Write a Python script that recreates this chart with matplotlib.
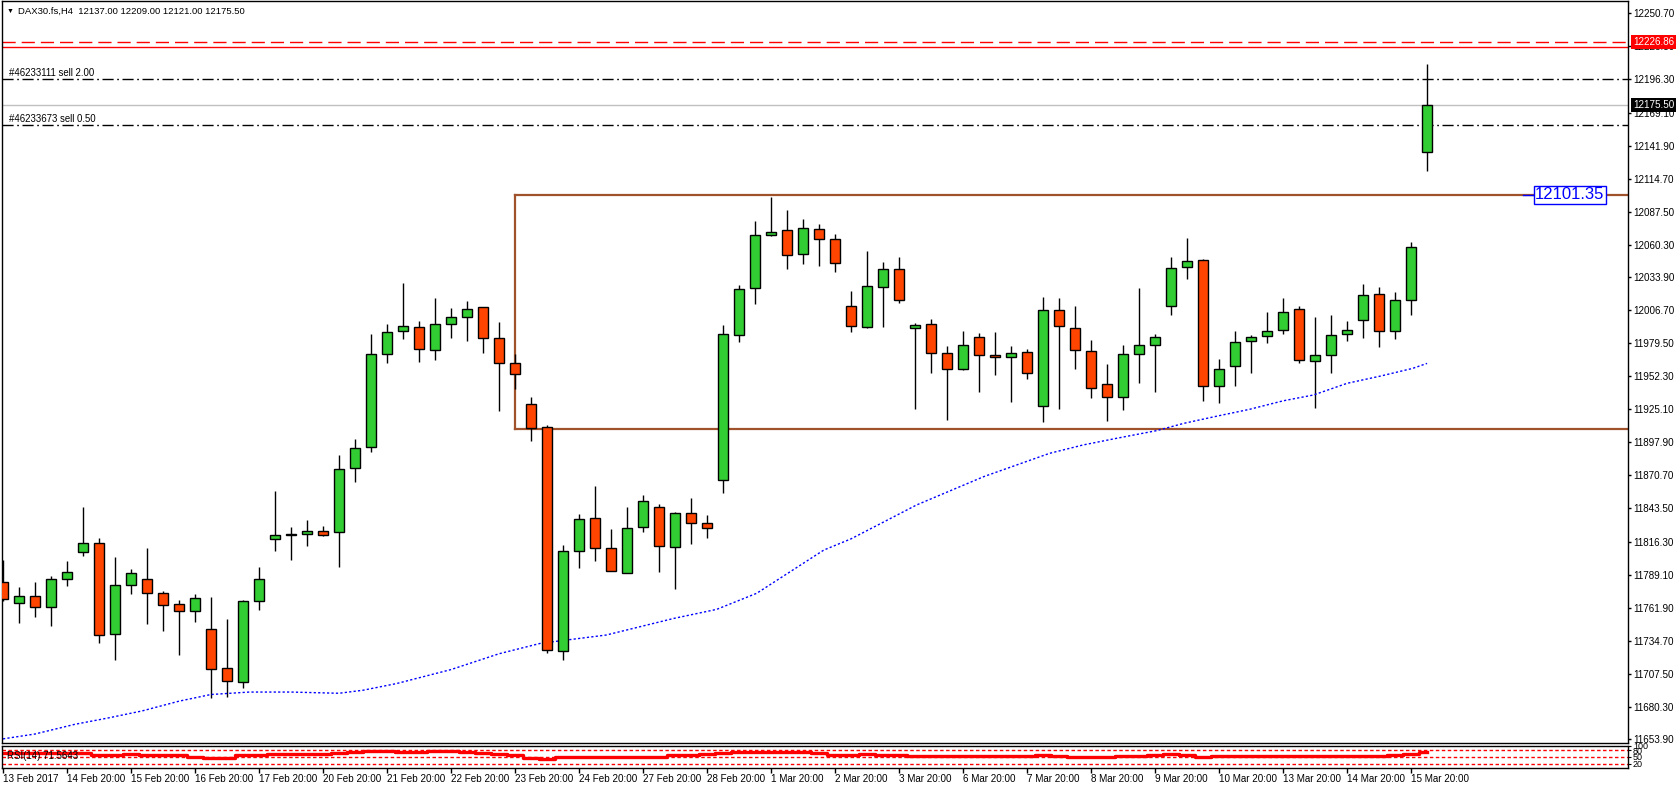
import numpy as np
import matplotlib
matplotlib.use('Agg')
from matplotlib import pyplot as plt
from matplotlib import transforms

plt.rcParams['font.family'] = ['Liberation Sans', 'DejaVu Sans']

# H4 candles (open, high, low, close)
opens = [11782.7, 11765.4, 11771.2, 11762.7, 11785.2, 11807.4, 11814.8, 11740.0, 11780.3, 11785.2,
         11773.7, 11764.6, 11758.9, 11744.1, 11712.0, 11700.5, 11767.1, 11818.1, 11821.4, 11822.2,
         11824.7, 11823.8, 11876.5, 11893.7, 11970.2, 11989.1, 11992.4, 11973.5, 11994.9, 12000.7,
         12008.9, 11983.4, 11962.8, 11929.1, 11910.2, 11726.0, 11808.2, 11835.4, 11810.7, 11790.1,
         11828.0, 11844.4, 11811.5, 11839.5, 11831.3, 11866.6, 11985.9, 12024.5, 12068.1, 12072.2,
         12052.5, 12073.0, 12064.8, 12009.7, 11993.0, 12025.4, 12040.2, 11991.6, 11994.9, 11971.1,
         11958.5, 11984.2, 11969.4, 11967.8, 11971.9, 11927.5, 12006.4, 11991.6, 11972.7, 11945.6,
         11934.9, 11970.3, 11977.7, 12009.7, 12041.8, 12047.6, 11943.9, 11960.4, 11980.9, 11985.1,
         11990.0, 12007.5, 11964.4, 11969.4, 11986.7, 11998.2, 12019.5, 11989.1, 12014.6, 12137.0]
highs = [11801.1, 11778.6, 11783.0, 11787.9, 11800.3, 11844.7, 11818.9, 11803.6, 11793.7, 11811.0,
         11775.3, 11767.9, 11772.9, 11770.4, 11752.3, 11767.9, 11795.3, 11857.8, 11828.0, 11833.7,
         11828.8, 11887.4, 11900.3, 11986.9, 11995.2, 12028.9, 11997.4, 12016.5, 12008.3, 12014.1,
         12009.5, 11996.8, 11970.5, 11935.1, 11912.1, 11813.2, 11838.7, 11862.0, 11826.3, 11844.4,
         11854.3, 11846.9, 11840.3, 11851.8, 11837.8, 11994.1, 12027.0, 12079.6, 12099.6, 12088.9,
         12081.5, 12077.1, 12068.9, 12022.3, 12055.2, 12046.2, 12050.3, 11995.8, 11999.3, 11977.1,
         11989.4, 11987.8, 11988.6, 11977.1, 11974.4, 12017.4, 12016.6, 12010.0, 11982.0, 11962.3,
         11977.7, 12024.5, 11986.7, 12050.0, 12065.7, 12048.4, 11966.1, 11989.4, 11985.9, 12005.1,
         12016.6, 12009.7, 12000.9, 12002.3, 11997.3, 12027.8, 12025.3, 12021.2, 12062.6, 12209.0]
lows = [11767.6, 11749.6, 11754.5, 11747.1, 11780.0, 11804.7, 11733.1, 11719.1, 11773.4, 11748.7,
        11743.0, 11723.2, 11750.4, 11687.9, 11688.7, 11696.1, 11760.2, 11808.8, 11801.4, 11812.9,
        11820.6, 11795.1, 11865.5, 11890.2, 11963.4, 11982.8, 11964.2, 11965.8, 11983.9, 11981.5,
        11971.6, 11923.9, 11941.7, 11899.2, 11724.9, 11718.6, 11794.8, 11800.6, 11791.8, 11790.1,
        11824.4, 11791.5, 11777.5, 11814.5, 11819.5, 11856.5, 11980.6, 12011.9, 12067.3, 12040.1,
        12044.2, 12042.6, 12037.7, 11989.0, 11992.2, 11993.0, 12012.7, 11925.6, 11955.2, 11916.5,
        11957.6, 11939.6, 11953.5, 11931.3, 11950.2, 11914.9, 11925.6, 11958.5, 11934.6, 11915.7,
        11924.8, 11947.0, 11939.6, 12002.9, 12032.5, 11932.2, 11930.5, 11944.5, 11955.2, 11979.9,
        11986.7, 11963.3, 11926.3, 11955.1, 11981.4, 11983.9, 11976.5, 11983.1, 12002.8, 12121.0]
closes = [11768.7, 11771.2, 11762.2, 11785.2, 11790.9, 11814.8, 11739.1, 11780.3, 11790.1, 11773.7,
          11763.8, 11758.9, 11769.6, 11711.2, 11701.3, 11767.1, 11785.2, 11821.4, 11822.2, 11824.7,
          11821.4, 11875.7, 11892.9, 11970.2, 11988.3, 11993.2, 11974.3, 11994.9, 12000.9, 12007.2,
          11983.4, 11962.8, 11953.8, 11909.4, 11726.8, 11808.2, 11834.5, 11810.7, 11791.8, 11827.1,
          11849.3, 11812.3, 11839.5, 11831.3, 11827.1, 11986.7, 12023.7, 12068.1, 12070.6, 12051.6,
          12073.9, 12064.8, 12045.1, 11993.2, 12026.2, 12040.2, 12014.7, 11994.1, 11971.1, 11957.9,
          11977.7, 11969.4, 11967.8, 11971.1, 11954.6, 12006.4, 11993.3, 11973.5, 11942.3, 11934.9,
          11970.3, 11977.7, 11984.2, 12041.0, 12046.7, 11943.9, 11957.9, 11980.1, 11984.2, 11989.2,
          12004.8, 11965.3, 11969.4, 11985.8, 11989.9, 12018.7, 11989.1, 12014.6, 12058.2, 12175.5]

# moving average (blue dotted), sampled along the line
ma_bar = [0, 2, 4.5, 6.5, 8.7, 11, 13, 15.4, 18, 21, 22.5, 24.6, 28, 31, 33.6, 37.7, 41.9, 44.6,
          47.1, 49.2, 51.3, 53, 57.1, 61.3, 65.4, 67.5, 69.6, 72.1, 73.8, 75.9, 77.9, 80, 81.9,
          84, 86.1, 88.1, 89]
ma_val = [11654, 11658, 11666, 11671, 11677, 11685, 11690.5, 11692.5, 11692.5, 11691.5, 11694,
          11699.5, 11711, 11724, 11732.6, 11739.4, 11753, 11760.5, 11773.7, 11791.5, 11809.3,
          11818.5, 11846.4, 11869.7, 11888.8, 11895.7, 11901.2, 11907.5, 11913.5, 11919.5, 11925,
          11932, 11936.8, 11946.4, 11952.4, 11958.7, 11962.8]

# RSI(14) per bar
rsi = [68, 68, 68, 68, 68, 68, 57, 57, 63, 57, 57, 57, 52, 47, 47, 57, 57, 63, 63, 63,
       63, 68, 73, 78, 78, 73, 73, 78, 78, 73, 68, 63, 57, 47, 40, 48, 48, 48, 48, 48,
       48, 48, 57, 57, 62, 67, 73, 73, 73, 73, 73, 67, 58, 58, 63, 58, 58, 55, 55, 55,
       55, 55, 55, 55, 55, 58, 55, 48, 48, 48, 53, 53, 57, 63, 57, 48, 53, 53, 53, 53,
       53, 53, 53, 53, 53, 53, 53, 57, 63, 71.5643]

price_ticks = [12250.70, 12223.50, 12196.30, 12169.10, 12141.90, 12114.70, 12087.50, 12060.30,
               12033.90, 12006.70, 11979.50, 11952.30, 11925.10, 11897.90, 11870.70, 11843.50,
               11816.30, 11789.10, 11761.90, 11734.70, 11707.50, 11680.30, 11653.90]
date_labels = ['13 Feb 2017', '14 Feb 20:00', '15 Feb 20:00', '16 Feb 20:00', '17 Feb 20:00',
               '20 Feb 20:00', '21 Feb 20:00', '22 Feb 20:00', '23 Feb 20:00', '24 Feb 20:00',
               '27 Feb 20:00', '28 Feb 20:00', '1 Mar 20:00', '2 Mar 20:00', '3 Mar 20:00',
               '6 Mar 20:00', '7 Mar 20:00', '8 Mar 20:00', '9 Mar 20:00', '10 Mar 20:00',
               '13 Mar 20:00', '14 Mar 20:00', '15 Mar 20:00']

# horizontal levels
stop_level = 12226.86
red_level = 12222.8
order1_price, order1_text = 12196.4, '#46233111 sell 2.00'
order2_price, order2_text = 12158.9, '#46233673 sell 0.50'
bid_price = 12175.50
box_top, box_bottom, box_start = 12101.35, 11909.1, 32

opens = np.array(opens)
closes = np.array(closes)
idx = np.arange(len(opens))

fig = plt.figure(figsize=(16.76, 7.86), dpi=100)
ax = fig.add_axes([0.0012, 0.0547, 0.9702, 0.944])
ax2 = fig.add_axes([0.0012, 0.0229, 0.9702, 0.028])

xlim = (-0.0625, 101.56)
lab_fs = 7.1

# candles
up = closes >= opens
ax.vlines(idx, lows, highs, color='black', linewidth=1, zorder=2)
body_bot = np.minimum(opens, closes)
body_h = np.abs(closes - opens)
colors = np.where(up, '#32CD32', '#FF4500')
ax.bar(idx, body_h, bottom=body_bot, width=0.62, color=colors, edgecolor='black',
       linewidth=1, zorder=3)

# moving average
ax.plot(ma_bar, ma_val, color='#0000FF', linewidth=1, dashes=(1.6, 1.6), zorder=2)

# rectangle
ax.plot([box_start, box_start], [box_bottom, box_top], color='#A0522D', linewidth=1.6, zorder=1)
ax.plot([box_start, 200], [box_top, box_top], color='#A0522D', linewidth=1.6, zorder=1)
ax.plot([box_start, 200], [box_bottom, box_bottom], color='#A0522D', linewidth=1.6, zorder=1)
ax.plot([95.0, 95.7], [box_top, box_top], color='blue', linewidth=1, zorder=4)
ax.text(95.75, box_top, '12101.35', ha='left', va='center', color='blue', fontsize=12,
        zorder=5, bbox=dict(facecolor='white', edgecolor='blue', linewidth=1, pad=0.8))

# order / price lines
ax.axhline(stop_level, color='red', linewidth=1, dashes=(9.5, 4.3), zorder=1)
ax.axhline(red_level, color='red', linewidth=1, zorder=1)
ax.axhline(bid_price, color='#C0C0C0', linewidth=1, zorder=1)
for p, t in [(order1_price, order1_text), (order2_price, order2_text)]:
    ax.axhline(p, color='black', linewidth=1, dashes=(8, 2.6, 1.2, 2.6), zorder=1)
    ax.text(0.38, p + 2.4, t, fontsize=6.9, va='baseline', ha='left')

ax.set_xlim(*xlim)
ax.set_ylim(11650.6, 12260.8)
ax.set_xticks([])
ax.yaxis.tick_right()
ax.set_yticks(price_ticks)
ax.set_yticklabels(['%.2f' % v for v in price_ticks])
ax.tick_params(axis='y', direction='out', length=2.5, width=1, pad=1.5, labelsize=lab_fs)

# right axis markers
trans = transforms.blended_transform_factory(ax.transAxes, ax.transData)
ax.text(1.003, stop_level, '12226.86', transform=trans, color='white', fontsize=lab_fs,
        va='center', ha='left', clip_on=False, zorder=6,
        bbox=dict(facecolor='#FF0000', edgecolor='none', pad=1.4))
ax.text(1.003, bid_price, '12175.50', transform=trans, color='white', fontsize=lab_fs,
        va='center', ha='left', clip_on=False, zorder=6,
        bbox=dict(facecolor='black', edgecolor='none', pad=1.4))

# header
fig.text(7 / 1676, 1 - 11 / 786, '\u25bc', fontsize=5, va='center', ha='left')
fig.text(18 / 1676, 1 - 11 / 786, 'DAX30.fs,H4  12137.00 12209.00 12121.00 12175.50',
         fontsize=6.8, va='center', ha='left')

# RSI panel
ax2.plot(idx, rsi, color='red', linewidth=2.4, drawstyle='steps-mid', zorder=2)
for lv in [80, 50, 20]:
    ax2.axhline(lv, color='red', linewidth=1, dashes=(2.5, 1.8), zorder=1)
ax2.text(0.25, 55, 'RSI(14) 71.5643', fontsize=7, va='center', ha='left', zorder=3)
ax2.set_xlim(*xlim)
ax2.set_ylim(0, 100)
ax2.yaxis.tick_right()
ax2.set_yticks([100, 80, 50, 20])
ax2.set_yticklabels(['100', '80', '50', '20'])
ax2.tick_params(axis='y', direction='out', length=2, pad=1.5, labelsize=6.5)
ax2.set_xticks(np.arange(len(date_labels)) * 4)
ax2.set_xticklabels(date_labels)
ax2.tick_params(axis='x', direction='out', length=3.5, width=1, pad=0.5, labelsize=lab_fs)
for lbl in ax2.get_xticklabels():
    lbl.set_ha('left')

for a in (ax, ax2):
    for s in a.spines.values():
        s.set_linewidth(1)
        s.set_color('black')

fig.savefig('out.png', dpi=100)
